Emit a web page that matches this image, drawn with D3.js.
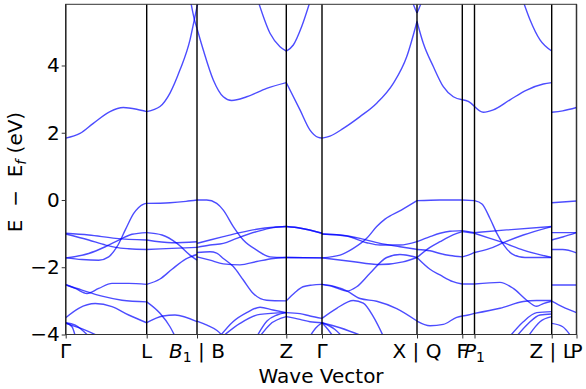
<!DOCTYPE html>
<html>
<head>
<meta charset="utf-8">
<script src="https://cdn.jsdelivr.net/npm/d3@7"></script>
<style>
  body { margin: 0; background: #fff; }
  text { font-family: "DejaVu Sans", sans-serif; }
</style>
</head>
<body>
<div class="chart"></div>
<script>
// high symmetry points along the path (k-distance)
let kTicks = [0, 0.81, 1.313, 2.206, 2.563, 3.513, 3.966, 4.088, 4.86, 5.108];
let kLabels = ["Γ", "L", "B_1 | B", "Z", "Γ", "X | Q", "F", "P_1", "Z | L", "P"];
let yTicks = [-4, -2, 0, 2, 4];
let eRange = [-4, 5.82];

// bands, one list per segment, points are [k, E - Ef]
let segGL = [
  [[0, 1.84], [0.143, 1.98], [0.276, 2.28], [0.443, 2.63], [0.576, 2.75], [0.71, 2.7], [0.81, 2.63]],
  [[0, -1.72], [0.163, -1.77], [0.33, -1.79], [0.43, -1.69], [0.513, -1.39], [0.596, -0.89], [0.68, -0.4], [0.78, -0.12], [0.81, -0.1]],
  [[0, -1.72], [0.23, -1.59], [0.396, -1.39], [0.546, -1.17], [0.663, -1.02], [0.81, -0.97]],
  [[0, -0.99], [0.23, -1.04], [0.5, -1.14], [0.81, -1.19]],
  [[0, -1.01], [0.23, -1.19], [0.4, -1.34], [0.5, -1.41], [0.63, -1.45], [0.81, -1.47]],
  [[0, -2.52], [0.096, -2.63], [0.213, -2.78], [0.33, -2.63], [0.463, -2.48], [0.63, -2.48], [0.81, -2.51]],
  [[0, -2.52], [0.163, -2.68], [0.363, -2.86], [0.563, -2.98], [0.81, -3.03]],
  [[0, -3.5], [0.13, -3.22], [0.296, -3.08], [0.463, -3.17], [0.63, -3.42], [0.81, -3.65]],
  [[0, -3.65], [0.063, -3.77], [0.096, -4.05]],
  [[0, -3.65], [0.096, -3.72], [0.23, -4.05]],
  [[0, -3.67], [0.196, -3.87], [0.33, -4.05]]
];
let segLB = [
  [[0.81, 2.63], [0.943, 2.78], [1.043, 3.18], [1.143, 3.87], [1.243, 4.76], [1.286, 5.36], [1.313, 5.75]],
  [[1.25, 5.9], [1.286, 5.38], [1.313, 5.1]],
  [[0.81, -0.1], [1.043, -0.08], [1.203, -0.04], [1.313, 0]],
  [[0.81, -0.97], [0.963, -1.04], [1.113, -1.29], [1.243, -1.64], [1.313, -1.79]],
  [[0.81, -1.19], [1.063, -1.27], [1.313, -1.24]],
  [[0.81, -1.47], [1.063, -1.44], [1.313, -1.41]],
  [[0.81, -2.51], [0.943, -2.35], [1.063, -2.06], [1.203, -1.75], [1.313, -1.62]],
  [[0.81, -3.03], [0.943, -3.37], [1.043, -3.77], [1.093, -4.05]],
  [[0.81, -3.65], [0.973, -3.45], [1.093, -3.42], [1.313, -3.62]]
];
let segBZ = [
  [[1.313, 5.1], [1.376, 4.46], [1.476, 3.57], [1.576, 3.07], [1.66, 2.96], [1.81, 3.07], [2.01, 3.32], [2.206, 3.49]],
  [[1.313, 5.75], [1.333, 5.95]],
  [[1.926, 5.9], [2.043, 4.96], [2.143, 4.56], [2.206, 4.43]],
  [[1.313, 0], [1.41, 0], [1.51, -0.1], [1.576, -0.3], [1.676, -0.79], [1.776, -1.19], [1.91, -1.49], [2.043, -1.69], [2.206, -1.71]],
  [[1.313, -1.29], [1.443, -1.19], [1.576, -1.09], [1.743, -0.97], [1.91, -0.87], [2.076, -0.81], [2.206, -0.79]],
  [[1.313, -1.41], [1.443, -1.34], [1.576, -1.29], [1.71, -1.14], [1.91, -0.94], [2.076, -0.82], [2.206, -0.79]],
  [[1.313, -1.56], [1.443, -1.54], [1.51, -1.58], [1.576, -1.74], [1.676, -1.98], [1.776, -2.38], [1.876, -2.78], [2.01, -2.98], [2.206, -3]],
  [[1.313, -1.69], [1.443, -1.79], [1.576, -1.9], [1.743, -1.93], [1.91, -1.83], [2.076, -1.74], [2.206, -1.71]],
  [[1.313, -3.6], [1.413, -3.72], [1.513, -3.88], [1.573, -4.05]],
  [[1.543, -4.05], [1.673, -3.62], [1.81, -3.35], [1.943, -3.19], [2.073, -3.27], [2.206, -3.35]],
  [[1.573, -4.05], [1.743, -3.67], [1.943, -3.4], [2.206, -3.35]],
  [[1.913, -4.05], [2.013, -3.6], [2.113, -3.42], [2.206, -3.35]],
  [[1.943, -4.05], [2.043, -3.7], [2.206, -3.47]]
];
let segZG = [
  [[2.206, 3.49], [2.343, 2.68], [2.443, 2.08], [2.526, 1.86], [2.563, 1.84]],
  [[2.206, 4.43], [2.276, 4.61], [2.36, 5.16], [2.443, 5.9]],
  [[2.206, -0.79], [2.35, -0.84], [2.563, -0.99]],
  [[2.206, -0.79], [2.35, -0.84], [2.563, -0.99]],
  [[2.206, -1.71], [2.563, -1.72]],
  [[2.206, -1.71], [2.563, -1.72]],
  [[2.206, -3], [2.293, -2.75], [2.373, -2.58], [2.463, -2.53], [2.563, -2.51]],
  [[2.206, -3.35], [2.343, -3.38], [2.443, -3.45], [2.563, -3.52]],
  [[2.206, -3.47], [2.343, -3.55], [2.443, -3.62], [2.563, -3.65]],
  [[2.443, -4.05], [2.503, -3.8], [2.563, -3.65]]
];
let segGX = [
  [[2.563, 1.84], [2.643, 1.9], [2.776, 2.13], [2.943, 2.48], [3.11, 2.88], [3.276, 3.47], [3.41, 4.26], [3.513, 5.31]],
  [[3.46, 5.95], [3.49, 5.72], [3.513, 5.56]],
  [[2.563, -1.01], [2.743, -1.04], [2.943, -1.14], [3.143, -1.29], [3.343, -1.39], [3.513, -1.47]],
  [[2.563, -1.01], [2.81, -1.07], [3.01, -1.27], [3.143, -1.34], [3.343, -1.34], [3.513, -1.24]],
  [[2.563, -1.72], [2.743, -1.64], [2.876, -1.44], [3.01, -1.14], [3.11, -0.79], [3.193, -0.57], [3.356, -0.3], [3.513, -0.02]],
  [[2.563, -1.72], [2.843, -1.82], [3.143, -1.92], [3.373, -1.84], [3.513, -1.71]],
  [[2.563, -2.51], [2.676, -2.58], [2.81, -2.71], [2.91, -2.58], [3.043, -2.18], [3.21, -1.71], [3.343, -1.62], [3.513, -1.71]],
  [[2.563, -2.51], [2.676, -2.56], [2.81, -2.7], [2.943, -2.93], [3.11, -3.01], [3.31, -3.23], [3.513, -3.6]],
  [[2.563, -3.52], [2.71, -3.22], [2.876, -2.99], [2.976, -3.07], [3.076, -3.47], [3.176, -4.05]],
  [[2.563, -3.65], [2.623, -3.85], [2.673, -4.05]],
  [[2.563, -3.65], [2.693, -3.85], [2.763, -4.05]],
  [[2.563, -3.65], [2.743, -3.8], [2.973, -4.05]]
];
let segQF = [
  [[3.513, 5.31], [3.576, 4.66], [3.676, 3.97], [3.776, 3.37], [3.876, 3.07], [3.966, 2.98]],
  [[3.513, 5.56], [3.536, 5.72], [3.566, 5.95]],
  [[3.513, -0.02], [3.743, 0], [3.966, 0]],
  [[3.513, -1.24], [3.643, -1.09], [3.743, -0.99], [3.843, -0.93], [3.966, -0.91]],
  [[3.513, -1.47], [3.643, -1.51], [3.743, -1.59], [3.843, -1.65], [3.966, -1.69]],
  [[3.513, -1.71], [3.643, -1.41], [3.743, -1.24], [3.873, -1.04], [3.966, -0.94]],
  [[3.513, -1.71], [3.643, -2.06], [3.743, -2.23], [3.873, -2.43], [3.966, -2.5]],
  [[3.513, -3.6], [3.643, -3.74], [3.776, -3.7], [3.91, -3.49], [3.966, -3.45]]
];
let segFP = [
  [[3.966, 2.98], [4.026, 2.93], [4.088, 2.78]],
  [[3.966, 0], [4.088, -0.02]],
  [[3.966, -0.91], [4.088, -0.97]],
  [[3.966, -0.94], [4.088, -0.99]],
  [[3.966, -1.69], [4.026, -1.64], [4.088, -1.56]],
  [[3.966, -2.5], [4.088, -2.5]],
  [[3.966, -3.45], [4.026, -3.42], [4.088, -3.37]]
];
let segPZ = [
  [[4.088, 2.78], [4.176, 2.61], [4.276, 2.68], [4.443, 2.98], [4.61, 3.27], [4.776, 3.45], [4.86, 3.49]],
  [[4.576, 5.9], [4.643, 5.36], [4.743, 4.76], [4.86, 4.43]],
  [[4.088, -0.97], [4.41, -0.89], [4.86, -0.79]],
  [[4.088, -0.99], [4.243, -1.14], [4.376, -1.27], [4.576, -1.49], [4.86, -1.71]],
  [[4.088, -1.56], [4.243, -1.44], [4.376, -1.27], [4.576, -1.04], [4.86, -0.79]],
  [[4.088, -0.02], [4.163, -0.12], [4.243, -0.55], [4.313, -1], [4.383, -1.35], [4.463, -1.6], [4.593, -1.71], [4.86, -1.71]],
  [[4.088, -2.5], [4.343, -2.45], [4.476, -2.63], [4.61, -2.98], [4.71, -3.16], [4.776, -3.08], [4.86, -3.01]],
  [[4.088, -3.37], [4.343, -3.22], [4.576, -3.02], [4.71, -2.99], [4.86, -2.99]],
  [[4.443, -4.05], [4.576, -3.62], [4.71, -3.35], [4.86, -3.32]],
  [[4.51, -4.05], [4.626, -3.67], [4.743, -3.42], [4.86, -3.39]],
  [[4.626, -4.05], [4.743, -3.62], [4.86, -3.47]]
];
let segLP = [
  [[4.86, 2.61], [4.97, 2.65], [5.108, 2.75]],
  [[4.86, -0.08], [5.108, -0.03]],
  [[4.86, -0.97], [5.108, -0.97]],
  [[4.86, -1.19], [4.97, -1.1], [5.108, -0.97]],
  [[4.86, -1.47], [4.97, -1.47], [5.108, -1.57]],
  [[4.86, -2.53], [5.108, -2.53]],
  [[4.86, -3.01], [4.97, -3.18], [5.108, -3.35]],
  [[4.86, -3.67], [4.97, -3.77], [5.053, -4.05]]
];

let margin = {top: 4.3, left: 65.7, right: 9.5, bottom: 54.5};
let width = 586 - margin.left - margin.right;
let height = 389 - margin.top - margin.bottom;

let svg = d3.select(".chart")
  .append("svg")
  .attr("width", 586)
  .attr("height", 389)
  .append("g")
  .attr("transform", "translate(" + margin.left + "," + margin.top + ")");

let x = d3.scaleLinear().domain([0, kTicks[kTicks.length - 1]]).range([0, width]);
let y = d3.scaleLinear().domain(eRange).range([height, 0]);

svg.append("clipPath")
  .attr("id", "plotclip")
  .append("rect")
  .attr("width", width)
  .attr("height", height);

let line = d3.line()
  .x(function(d) { return x(d[0]); })
  .y(function(d) { return y(d[1]); })
  .curve(d3.curveMonotoneX);

let allBands = [].concat(segGL, segLB, segBZ, segZG, segGX, segQF, segFP, segPZ, segLP);

svg.append("g")
  .attr("clip-path", "url(#plotclip)")
  .selectAll("path")
  .data(allBands)
  .enter()
  .append("path")
  .attr("d", line)
  .attr("fill", "none")
  .attr("stroke", "blue")
  .attr("stroke-opacity", 0.7)
  .attr("stroke-width", 1.4);

// vertical lines at high symmetry points
svg.append("g")
  .selectAll("line")
  .data(kTicks)
  .enter()
  .append("line")
  .attr("x1", function(d) { return x(d); })
  .attr("x2", function(d) { return x(d); })
  .attr("y1", 0)
  .attr("y2", height)
  .attr("stroke", "black")
  .attr("stroke-width", 1.4);

// frame
svg.append("rect")
  .attr("width", width)
  .attr("height", height)
  .attr("fill", "none")
  .attr("stroke", "#333")
  .attr("stroke-width", 1);

let yAxis = svg.append("g")
  .call(d3.axisLeft(y).tickValues(yTicks).tickSize(4).tickPadding(2));
yAxis.select(".domain").remove();
yAxis.selectAll("text")
  .attr("font-size", 20)
  .attr("font-family", "DejaVu Sans");
yAxis.selectAll("line").attr("stroke", "#333");

let xAxis = svg.append("g")
  .attr("transform", "translate(0," + height + ")")
  .call(d3.axisBottom(x).tickValues(kTicks).tickSize(4).tickFormat(""));
xAxis.select(".domain").remove();
xAxis.selectAll("line").attr("stroke", "#333");

// k-point labels, "_1" gives italic letter with subscript
let labelG = svg.append("g");
kLabels.forEach(function(lab, i) {
  let t = labelG.append("text")
    .attr("x", x(kTicks[i]))
    .attr("y", 358 - margin.top)
    .attr("text-anchor", "middle")
    .attr("font-size", 20)
    .style("white-space", "pre");
  if (lab.indexOf("_") >= 0) {
    let head = lab.split("_")[0];
    let sub = lab.split("_")[1][0];
    let rest = lab.split("_")[1].slice(1);
    t.append("tspan").attr("font-style", "italic").text(head);
    t.append("tspan").attr("font-size", 14).attr("dy", 4).text(sub);
    if (rest) t.append("tspan").attr("dy", -4).text(rest);
  } else {
    t.text(lab);
  }
});

svg.append("text")
  .attr("x", width / 2)
  .attr("y", 383 - margin.top)
  .attr("text-anchor", "middle")
  .attr("font-size", 20)
  .text("Wave Vector");

let ylab = svg.append("text")
  .attr("transform", "translate(" + (22 - margin.left) + "," + (172 - margin.top) + ") rotate(-90)")
  .attr("text-anchor", "middle")
  .attr("font-size", 20)
  .style("white-space", "pre");
ylab.append("tspan").text("E  \u2212  E");
ylab.append("tspan").attr("font-size", 14).attr("font-style", "italic").attr("dy", 4).text("f");
ylab.append("tspan").attr("dy", -4).text(" (eV)");
</script>
</body>
</html>
